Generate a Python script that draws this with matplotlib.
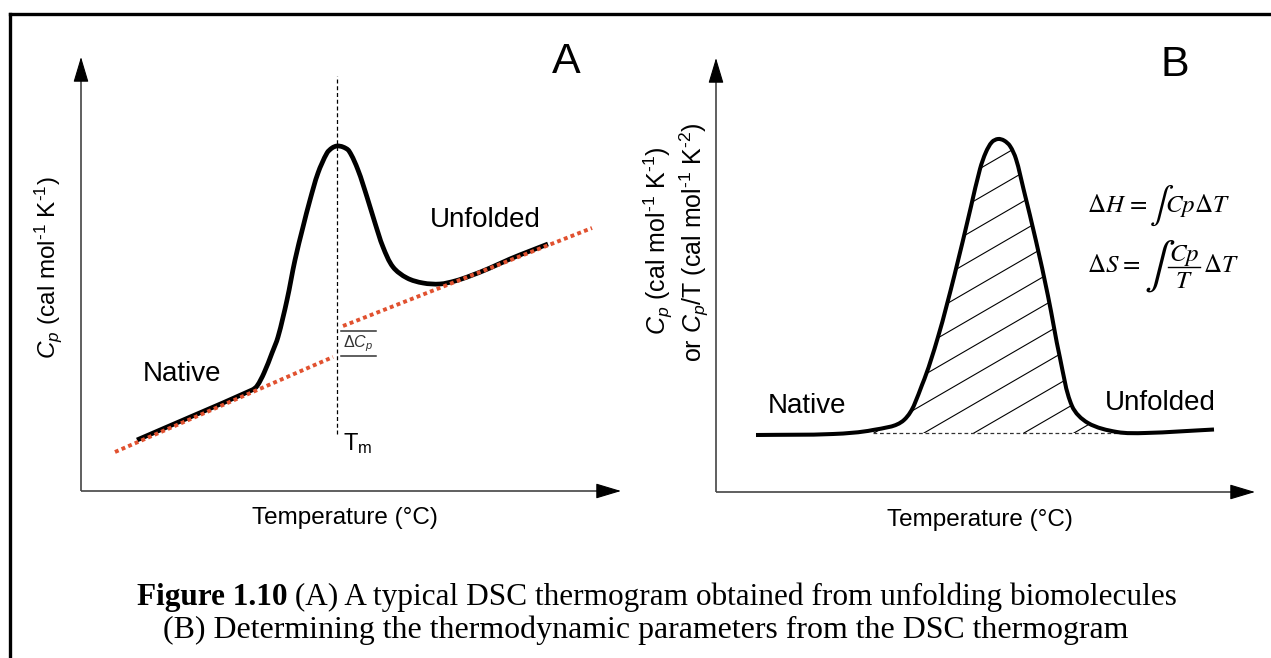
import matplotlib
matplotlib.use('Agg')
import math
import matplotlib.pyplot as plt
from matplotlib.lines import Line2D
from matplotlib.path import Path
from matplotlib.patches import PathPatch

plt.rcParams['font.family'] = ['Liberation Sans', 'DejaVu Sans']
plt.rcParams['mathtext.fontset'] = 'custom'
plt.rcParams['mathtext.rm'] = 'Liberation Sans'
plt.rcParams['mathtext.it'] = 'Liberation Sans:italic'
plt.rcParams['mathtext.bf'] = 'Liberation Sans:bold'

W, H, DPI = 1271, 658, 100

# ---------------- data (schematic, arbitrary units) ----------------
# Panel A : typical DSC thermogram
a_T = [56, 171, 176, 183, 191, 197, 206, 214, 222, 229, 237, 246, 251, 256, 262,
       268, 277, 286, 294, 302, 312, 326, 342, 359, 374, 389, 409, 429, 449, 467]
a_Cp = [51, 101, 105, 118, 138, 154, 191, 231, 264, 291, 318, 338, 343, 345, 344,
        340, 321, 294, 268, 244, 224, 213, 208, 207, 210, 215, 223, 232, 240, 247]
a_native_T = [34, 252]
a_native_Cp = [39, 134]
a_unfold_T = [262, 511]
a_unfold_Cp = [165, 263]
a_Tm = 256
a_Tm_span = [57, 415]
a_dCp_levels = [135, 160]

# Panel B : thermodynamic parameters
b_T = [40, 117, 157, 188, 206, 222, 238.5, 255, 264, 270, 276, 282, 288, 294,
       300, 307.5, 320, 332, 344, 356, 372, 401, 429, 498]
b_Cp = [57, 58, 62, 72, 107, 155, 217, 285.5, 323, 340, 350, 353, 351.5, 346,
        333, 303, 251, 196, 134, 86, 69, 60, 59, 62.5]
b_base_T = [157, 411]
b_base_Cp = 59

# axis extents (arbitrary units)
a_xmax, a_ymax = 540, 434
b_xmax, b_ymax = 539, 434

ylabel_1 = r'$C_p$ (cal mol$^{\mathrm{‐1}}$ K$^{\mathrm{‐1}}$)'
ylabel_2 = r'or $C_p$/T (cal mol$^{\mathrm{‐1}}$ K$^{\mathrm{‐2}}$)'
xlabel = 'Temperature (°C)'
caption1_bold = "Figure 1.10"
caption1_rest = " (A) A typical DSC thermogram obtained from unfolding biomolecules"
caption2 = "(B) Determining the thermodynamic parameters from the DSC thermogram"

# ---------------- figure ----------------
fig = plt.figure(figsize=(W / DPI, H / DPI), dpi=DPI)
fig.patch.set_facecolor('white')


def fx(px):
    return px / W


def fy(py):
    return 1 - py / H


def smooth_path(xs, ys):
    """Smooth cubic Bezier path passing through every given point."""
    pts = list(zip(xs, ys))
    n = len(pts)
    tang = []
    for i in range(n):
        a = pts[max(i - 1, 0)]
        b = pts[min(i + 1, n - 1)]
        dx, dy = b[0] - a[0], b[1] - a[1]
        L = math.hypot(dx, dy) or 1.0
        tang.append((dx / L, dy / L))
    verts = [pts[0]]
    codes = [Path.MOVETO]
    for i in range(n - 1):
        p1, p2 = pts[i], pts[i + 1]
        d = math.hypot(p2[0] - p1[0], p2[1] - p1[1]) / 3.0
        c1 = (p1[0] + tang[i][0] * d, p1[1] + tang[i][1] * d)
        c2 = (p2[0] - tang[i + 1][0] * d, p2[1] - tang[i + 1][1] * d)
        verts += [c1, c2, p2]
        codes += [Path.CURVE4] * 3
    return Path(verts, codes)


# outer frame
fig.add_artist(Line2D([fx(10), fx(1271)], [fy(14), fy(14)], color='black', lw=2.4))
fig.add_artist(Line2D([fx(10), fx(10)], [fy(14), fy(658)], color='black', lw=2.4))

RED = '#E1512F'
AXC = '#444444'
head_kw = dict(arrowstyle='-|>,head_length=0.8,head_width=0.24', color='black',
               lw=0.8, shrinkA=0, shrinkB=0, mutation_scale=20)


def draw_axes(ax, xmax, ymax):
    ax.set_xlim(0, xmax)
    ax.set_ylim(0, ymax)
    ax.axis('off')
    ax.plot([0, xmax - 8], [0, 0], color=AXC, lw=1.2, clip_on=False,
            solid_capstyle='butt')
    ax.plot([0, 0], [0, ymax - 8], color=AXC, lw=1.2, clip_on=False,
            solid_capstyle='butt')
    ax.annotate('', xy=(xmax, 0), xytext=(xmax - 10, 0), arrowprops=head_kw,
                annotation_clip=False)
    ax.annotate('', xy=(0, ymax), xytext=(0, ymax - 10), arrowprops=head_kw,
                annotation_clip=False)


# ---------- Panel A ----------
axA = fig.add_axes([fx(81), fy(491), a_xmax / W, a_ymax / H])
draw_axes(axA, a_xmax, a_ymax)
axA.add_patch(PathPatch(smooth_path(a_T, a_Cp), facecolor='none',
                        edgecolor='black', lw=3.4, joinstyle='round',
                        capstyle='butt', zorder=3))
for xs, ys in [(a_native_T, a_native_Cp), (a_unfold_T, a_unfold_Cp)]:
    axA.plot(xs, ys, color=RED, lw=2.8, linestyle=(0, (1.0, 0.85)),
             dash_capstyle='butt', zorder=4)
axA.plot([a_Tm, a_Tm], a_Tm_span, color='black', lw=0.9,
         linestyle=(0, (3.2, 2.2)), zorder=2)
for lv in a_dCp_levels:
    axA.plot([a_Tm + 4, a_Tm + 39], [lv, lv], color='#333333', lw=1.1, zorder=2)
axA.text(a_Tm + 21, sum(a_dCp_levels) / 2, r'$\Delta C_p$', fontsize=11.5,
         ha='center', va='center', color='#333333')
axA.text(a_Tm + 6, 41, r'T$_{\mathrm{m}}$', fontsize=17, ha='left', va='baseline')
axA.text(62, 110, 'Native', fontsize=20, ha='left', va='baseline')
axA.text(349, 264, 'Unfolded', fontsize=20, ha='left', va='baseline')
axA.text(471, 418, 'A', fontsize=31, ha='left', va='baseline')

fig.text(fx(48), fy(268), ylabel_1, rotation=90, ha='center', va='center',
         fontsize=17.5)
fig.text(fx(345), fy(518), xlabel, ha='center', va='center', fontsize=17.5)

# ---------- Panel B ----------
axB = fig.add_axes([fx(716), fy(492), b_xmax / W, b_ymax / H])
draw_axes(axB, b_xmax, b_ymax)
b_path = smooth_path(b_T, b_Cp)
axB.add_patch(PathPatch(b_path, facecolor='none', edgecolor='black', lw=2.9,
                        joinstyle='round', zorder=3))
axB.plot(b_base_T, [b_base_Cp, b_base_Cp], color='#333333', lw=0.9,
         linestyle=(0, (3, 2.2)), zorder=2)

# hatched area between curve and baseline
clip_verts = list(b_path.vertices) + [(b_T[-1], b_base_Cp), (b_T[0], b_base_Cp),
                                      (b_T[0], b_Cp[0])]
clip_codes = list(b_path.codes) + [Path.LINETO, Path.LINETO, Path.CLOSEPOLY]
clip_path = Path(clip_verts, clip_codes)
hatch_slope = 0.58
hatch_step = 50
for k in range(-8, 4):
    x0 = 208 + hatch_step * k
    ln, = axB.plot([x0, x0 + 500], [b_base_Cp, b_base_Cp + hatch_slope * 500],
                   color='black', lw=0.8, zorder=2)
    ln.set_clip_path(clip_path, axB.transData)

axB.text(52, 79, 'Native', fontsize=20, ha='left', va='baseline')
axB.text(389, 82, 'Unfolded', fontsize=20, ha='left', va='baseline')
axB.text(445, 416, 'B', fontsize=31, ha='left', va='baseline')

fig.text(fx(658), fy(241), ylabel_1, rotation=90, ha='center', va='center',
         fontsize=18)
fig.text(fx(694), fy(242), ylabel_2, rotation=90, ha='center', va='center',
         fontsize=18)
fig.text(fx(980), fy(520), xlabel, ha='center', va='center', fontsize=17.5)

# ---------- equations (Times-like), pieces laid out left to right ----------
fig.canvas.draw()
rend = fig.canvas.get_renderer()
EQ = 18
stixg = ['STIXGeneral', 'DejaVu Serif']


def piece(s, size=EQ, fam=None, va='baseline', ha='left'):
    kw = dict(fontsize=size, ha=ha, va=va)
    if fam:
        kw['fontfamily'] = fam
    else:
        kw['math_fontfamily'] = 'stix'
    return fig.text(0, 0, s, **kw)


def layout(items, x_start, base_y):
    """items: (artist, gap_after, y_offset_px)."""
    x = x_start
    for art, gap, dy in items:
        art.set_position((fx(x), fy(base_y + dy)))
        x += art.get_window_extent(rend).width + gap
    return x


# Delta H = int Cp Delta T
layout([(piece(r'$\Delta H$'), 3, 0),
        (piece('=', fam=stixg), 3, 0),
        (piece('∫', size=26, fam=stixg, va='center'), -1, -7),
        (piece(r'$Cp\Delta T$'), 0, 0)], 1087, 212)

# Delta S = int Cp/T Delta T
x_frac = layout([(piece(r'$\Delta S$'), 3, 0),
                 (piece('=', fam=stixg), 4, 0),
                 (piece('∫', size=33, fam=stixg, va='center'), 3, -6)],
                1087, 272)
num = piece(r'$Cp$', ha='center')
fw = num.get_window_extent(rend).width + 2
num.set_position((fx(x_frac + fw / 2), fy(261)))
piece(r'$T$', ha='center').set_position((fx(x_frac + fw / 2), fy(288)))
fig.add_artist(Line2D([fx(x_frac), fx(x_frac + fw)], [fy(267), fy(267)],
                      color='black', lw=1.0))
layout([(piece(r'$\Delta T$'), 0, 0)], x_frac + fw + 3, 272)

# ---------- caption ----------
serif = ['Liberation Serif', 'DejaVu Serif']
c2 = fig.text(fx(646), fy(630), caption2, fontfamily=serif, fontsize=18,
              ha='center', va='center')
fs2 = 18 * 968 / c2.get_window_extent(rend).width
c2.set_fontsize(fs2)

t1 = fig.text(0, fy(597), caption1_bold, fontfamily=serif, fontsize=fs2,
              fontweight='bold', va='center')
t2 = fig.text(0, fy(597), caption1_rest, fontfamily=serif, fontsize=fs2,
              va='center')
wtot = t1.get_window_extent(rend).width + t2.get_window_extent(rend).width
fs1 = fs2 * 1040 / wtot
t1.set_fontsize(fs1)
t2.set_fontsize(fs1)
w1 = t1.get_window_extent(rend).width
w2 = t2.get_window_extent(rend).width
left = 657 - (w1 + w2) / 2
t1.set_x(fx(left))
t2.set_x(fx(left + w1))

fig.savefig('out.png', dpi=DPI, facecolor='white')
